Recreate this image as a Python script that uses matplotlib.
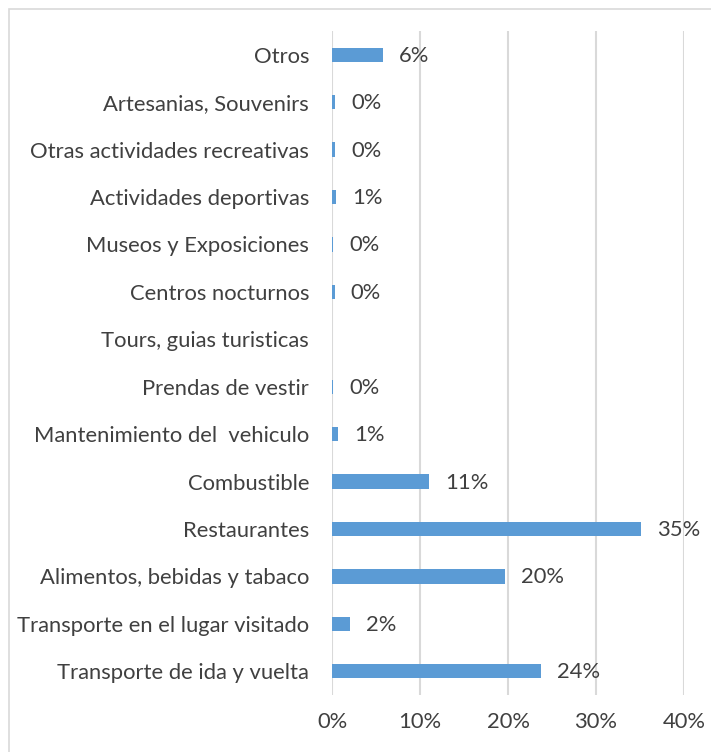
import matplotlib.pyplot as plt
from matplotlib.patches import Rectangle
import numpy as np

plt.rcParams['font.family'] = ['Lato', 'DejaVu Sans']

# categories bottom -> top
categories = [
    "Transporte de ida y vuelta",
    "Transporte en el lugar visitado",
    "Alimentos, bebidas y tabaco",
    "Restaurantes",
    "Combustible",
    "Mantenimiento del  vehiculo",
    "Prendas de vestir",
    "Tours, guias turisticas",
    "Centros nocturnos",
    "Museos y Exposiciones",
    "Actividades deportivas",
    "Otras actividades recreativas",
    "Artesanias, Souvenirs",
    "Otros",
]
values = [23.8, 2.1, 19.7, 35.1, 11.0, 0.7, 0.1, 0.0, 0.3, 0.1, 0.5, 0.35, 0.35, 5.8]
labels = ["24%", "2%", "20%", "35%", "11%", "1%", "0%", None, "0%", "0%", "1%", "0%", "0%", "6%"]
xticks = [0, 10, 20, 30, 40]

W, H = 711, 752
fig = plt.figure(figsize=(W / 100, H / 100), dpi=100)
ax = fig.add_axes([332 / W, 1 - 695 / H, (684 - 332) / W, (695 - 31) / H])

txt = '#404040'
bar_col = '#5b9bd5'
fs = 15.8

y = np.arange(len(categories))
ax.barh(y, values, height=0.3, color=bar_col, zorder=3)

for yi, v, lab in zip(y, values, labels):
    if lab is None:
        continue
    ax.annotate(lab, (v, yi), xytext=(16, -1), textcoords='offset pixels',
                va='center', ha='left', fontsize=fs, color=txt)

ax.set_xlim(0, 40)
ax.set_ylim(-0.5, len(categories) - 0.5)
ax.set_xticks(xticks)
ax.set_xticklabels([f"{t}%" for t in xticks], fontsize=fs, color=txt)
ax.set_yticks(y)
ax.set_yticklabels(categories, fontsize=fs, color=txt)
ax.tick_params(length=0, pad=12, axis='x')
ax.tick_params(length=0, pad=16.5, axis='y')
ax.xaxis.grid(True, color='#d9d9d9', linewidth=1.5, zorder=0)
for s in ax.spines.values():
    s.set_visible(False)

# outer chart border (cut off on right and bottom)
fig.patches.append(Rectangle((9 / W, -0.1), 1.2, 1 - 9 / H + 0.1,
                             transform=fig.transFigure, fill=False,
                             edgecolor='#d9d9d9', linewidth=1.2))

fig.savefig("out.png", dpi=100)
